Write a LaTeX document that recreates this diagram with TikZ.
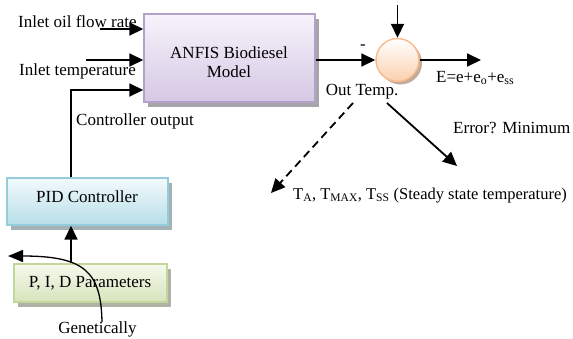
\documentclass[tikz,border=0pt]{standalone}
\usepackage{fontspec}
\setmainfont{Liberation Serif}
\usetikzlibrary{arrows.meta,shadows}
\definecolor{purpB}{HTML}{B3A2C7}
\definecolor{purpT}{HTML}{F7F3FB}
\definecolor{purpD}{HTML}{D5C8E4}
\definecolor{blueB}{HTML}{93CDDD}
\definecolor{blueT}{HTML}{F3FAFC}
\definecolor{blueD}{HTML}{B7DEE8}
\definecolor{greenB}{HTML}{C3D69B}
\definecolor{greenT}{HTML}{F5F9EC}
\definecolor{greenD}{HTML}{D7E4BD}
\definecolor{orangeB}{HTML}{F9B98A}
\definecolor{orangeT}{HTML}{FFFFFF}
\definecolor{orangeD}{HTML}{FBD0AE}
\begin{document}
\begin{tikzpicture}[x=1pt,y=-1pt,
  every node/.style={font=\fontsize{17}{20}\selectfont, inner sep=0pt},
  conn/.style={line width=1.8pt, -{Triangle[length=14pt,width=13pt]}},
  boxshadow/.style={drop shadow={shadow xshift=4pt,shadow yshift=-5pt,fill=#1,opacity=0.75}},
  anfisbox/.style={draw=purpB, line width=1.4pt, top color=purpT, bottom color=purpD, boxshadow=gray!80!purpB},
  pidbox/.style={draw=blueB, line width=1.4pt, top color=blueT, bottom color=blueD, boxshadow=gray!70!blueB},
  parbox/.style={draw=greenB, line width=1.4pt, top color=greenT, bottom color=greenD, boxshadow=gray!70!greenB},
  sumnode/.style={circle, draw=orangeB, line width=1.4pt, top color=orangeT, bottom color=orangeD,
     drop shadow={shadow xshift=3pt,shadow yshift=-3pt,fill=gray!60!orangeB,opacity=0.8}},
  txt/.style={anchor=base west},
  ctxt/.style={anchor=base},
]
\useasboundingbox (0,0) rectangle (573,338);

% boxes
\node[anfisbox, minimum width=171pt, minimum height=88pt] (anfis) at (229.5,58) {};
\node[pidbox, minimum width=161pt, minimum height=47pt] (pid) at (87.5,201.5) {};
\node[parbox, minimum width=153pt, minimum height=38pt] (par) at (90.5,283) {};
\node[sumnode, minimum size=43pt] (sum) at (397.5,60) {};

% box texts
\node[ctxt] (anfis1) at (229,58) {ANFIS Biodiesel};
\node[ctxt] (anfis2) at (229,77) {Model};
\node[ctxt] (pidt) at (87,202) {PID Controller};
\node[ctxt] (part) at (90,287) {P, I, D Parameters};

% labels
\node[txt] (lin1) at (18,27) {Inlet oil flow rate};
\node[txt] (lin2) at (19,75) {Inlet temperature};
\node[txt] (lctl) at (76,125) {Controller output};
\node[ctxt] (lminus) at (363,49) {-};
\node[ctxt] (lout) at (362,95) {Out Temp.};
\node[txt] (lerr) at (436,82) {E=e+e\textsubscript{o}+e\textsubscript{ss}};
\node[txt] (lmin) at (453,133) {Error? Minimum};
\node[txt, font=\fontsize{16.5}{20}\selectfont] (lT) at (293,199) {T\textsubscript{A}, T\textsubscript{MAX}, T\textsubscript{SS} (Steady state temperature)};
\node[ctxt] (lgen) at (97.5,333) {Genetically};

% free ends
\coordinate (i1) at (100,29);
\coordinate (i2) at (86,60);
\coordinate (c) at (71,90);
\coordinate (topin) at (397.5,5);
\coordinate (eout) at (481,60);
\coordinate (d1) at (353,103);
\coordinate (d2) at (271,193);
\coordinate (s1) at (387,103);
\coordinate (s2) at (457,166);
\coordinate (g1) at (102,322);
\coordinate (g2) at (8,256);

% connectors
\draw[conn] (i1) -- (i1 -| anfis.west);
\draw[conn] (i2) -- (i2 -| anfis.west);
\draw[conn] (pid.north -| c) |- (c -| anfis.west);
\draw[conn] (par.north -| c) -- (pid.south -| c);
\draw[conn] (anfis.east |- sum.west) -- (sum.west);
\draw[conn] (topin) -- (sum.north);
\draw[conn] (sum.east) -- (eout);
\draw[conn, dash pattern=on 8pt off 5pt] (d1) -- (d2);
\draw[conn] (s1) -- (s2);
\draw[line width=1.3pt, -{Triangle[length=15pt,width=12pt]}] (g1) .. controls (101,272) and (85,256) .. (g2);
\end{tikzpicture}
\end{document}
